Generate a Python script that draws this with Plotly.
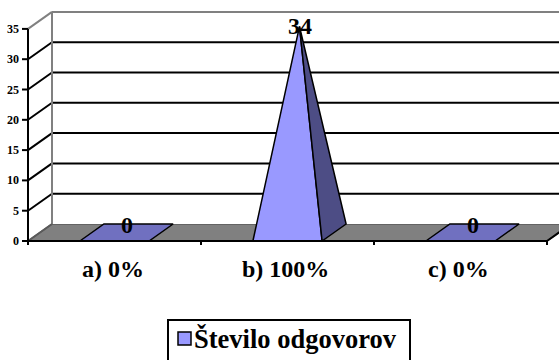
import plotly.graph_objects as go

# ---- data -------------------------------------------------------------
categories = ["a) 0%", "b) 100%", "c) 0%"]
counts = [0, 34, 0]
value_ticks = [0, 5, 10, 15, 20, 25, 30, 35]
series_name = "Število odgovorov"

# ---- style ------------------------------------------------------------
FONT = "Liberation Serif"
FRONT = "#9999FF"      # lit face of the pyramid
SIDE = "#4D4D85"       # shaded side face
TOP = "#7070C0"        # flat base of a zero-height pyramid
FLOOR = "#808080"
EDGE = "#808080"
INK = "#000000"

W, H = 559, 360
# oblique projection: front plane measured in category / value units,
# the depth of the box is an offset of (24 px right, 17 px up)
X0_PX, Y0_PX = 28, 241
CAT_PX = 173.0
UNIT_PX = 6.06
DX = 24 / CAT_PX
DY = 17 / UNIT_PX
VMAX = value_ticks[-1]
N = len(categories)
BASE = 0.4  # pyramid base width as a share of the category slot

fig = go.Figure()


def shifted(p, d=1.0):
    return (p[0] + DX * d, p[1] + DY * d)


def poly(pts, fill, color, width):
    xs = [p[0] for p in pts] + [pts[0][0]]
    ys = [p[1] for p in pts] + [pts[0][1]]
    fig.add_trace(go.Scatter(
        x=xs, y=ys, mode="lines",
        fill="toself" if fill else "none", fillcolor=fill,
        line=dict(color=color, width=width),
        hoverinfo="skip", showlegend=False))


def seg(p, q, color, width):
    fig.add_trace(go.Scatter(
        x=[p[0], q[0]], y=[p[1], q[1]], mode="lines",
        line=dict(color=color, width=width),
        hoverinfo="skip", showlegend=False))


def label(text, size, **kw):
    fig.add_annotation(text=f"<b>{text}</b>", showarrow=False,
                       font=dict(family=FONT, size=size, color=INK), **kw)


# floor
floor = [(0, 0), (N, 0), shifted((N, 0)), shifted((0, 0))]
poly(floor, FLOOR, "#5a5a5a", 1.5)
seg((N, 0), shifted((N, 0)), INK, 2)

# back wall and left wall
poly([shifted((0, 0)), shifted((N, 0)), shifted((N, VMAX)), shifted((0, VMAX))],
     "#FFFFFF", "rgba(0,0,0,0)", 0)
for v in value_ticks[1:-1]:
    seg(shifted((0, v)), shifted((N, v)), INK, 2)
    seg((0, v), shifted((0, v)), INK, 2)
seg(shifted((0, VMAX)), shifted((N, VMAX)), EDGE, 2)
seg((0, VMAX), shifted((0, VMAX)), EDGE, 2)
seg(shifted((0, 0)), shifted((0, VMAX)), EDGE, 2)
seg((0, 0), shifted((0, 0)), "#5a5a5a", 2)

# pyramids
label_lift = 1.25
for i, val in enumerate(counts):
    left = (i + 0.5 - BASE / 2, 0)
    right = (i + 0.5 + BASE / 2, 0)
    apex = (i + 0.5 + DX / 2, val + DY / 2)
    if val > 0:
        poly([left, right, apex], FRONT, INK, 1.5)
        poly([right, shifted(right), apex], SIDE, INK, 1.5)
    else:
        poly([left, right, shifted(right), shifted(left)], TOP, INK, 1.5)
    ly = min(apex[1] + label_lift, VMAX + 0.5)
    label(val, 24, x=apex[0], y=ly, xanchor="center", yanchor="middle")

# front axes
seg((0, 0), (0, VMAX), INK, 2)
seg((0, 0), (N, 0), INK, 2)
for v in value_ticks:
    seg((-6 / CAT_PX, v), (0, v), INK, 2)
    label(v, 12, x=-6 / CAT_PX, y=v, xanchor="right", yanchor="middle", xshift=-1)
for k in range(N + 1):
    seg((k, 0), (k, -4 / UNIT_PX), INK, 2)
for i, c in enumerate(categories):
    label(c, 24, x=i + 0.5, y=0, xanchor="center", yanchor="top",
          yshift=-13, xshift=-2)

# legend box
fig.add_shape(type="rect", xref="paper", yref="paper",
              x0=168 / W, x1=410 / W, y0=1 - 368 / H, y1=1 - 320 / H,
              line=dict(color=INK, width=2), fillcolor="#FFFFFF")
fig.add_shape(type="rect", xref="paper", yref="paper",
              x0=178 / W, x1=191 / W, y0=1 - 345 / H, y1=1 - 332 / H,
              line=dict(color=INK, width=1.5), fillcolor=FRONT)
label(series_name, 26.5, xref="paper", yref="paper", x=192 / W, y=1 - 339 / H,
      xanchor="left", yanchor="middle")

fig.update_layout(
    width=W, height=H,
    margin=dict(l=0, r=0, t=0, b=0),
    paper_bgcolor="#FFFFFF", plot_bgcolor="#FFFFFF",
    xaxis=dict(range=[-X0_PX / CAT_PX, (W - X0_PX) / CAT_PX], visible=False,
               fixedrange=True),
    yaxis=dict(range=[-(H - Y0_PX) / UNIT_PX, Y0_PX / UNIT_PX], visible=False,
               fixedrange=True),
    showlegend=False,
)

fig.write_html("out.html")
